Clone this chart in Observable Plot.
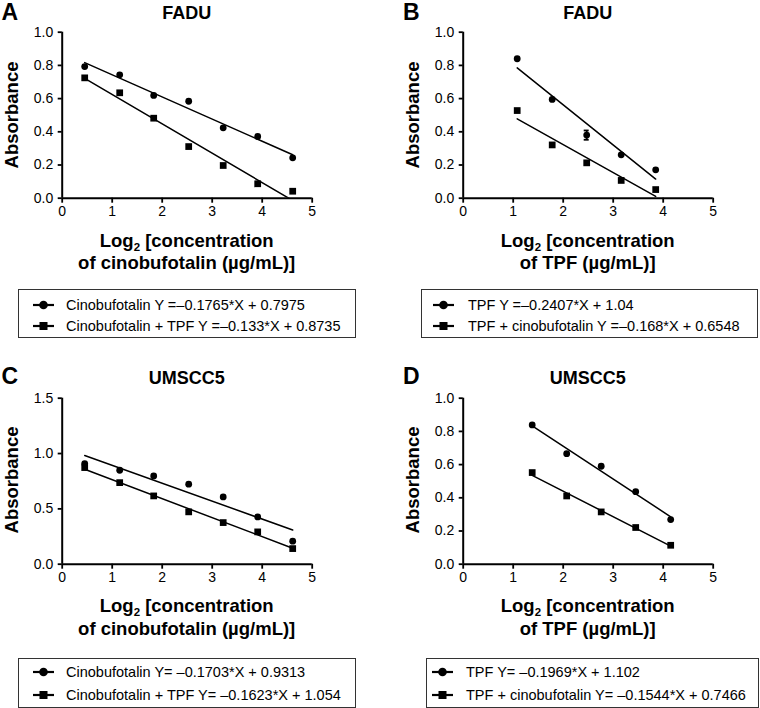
<!DOCTYPE html>
<html>
<head>
<meta charset="utf-8">
<script src="https://cdn.jsdelivr.net/npm/d3@7"></script>
<script src="https://cdn.jsdelivr.net/npm/@observablehq/plot@0.6"></script>
<style>
  html, body { margin: 0; padding: 0; background: #fff; }
  #fig { position: relative; width: 760px; height: 708px; font-family: 'Liberation Sans', Arial, Helvetica, sans-serif; color: #000; overflow: hidden; }
  .abs { position: absolute; white-space: nowrap; line-height: 1; }
  .bold { font-weight: bold; }
  .legbox { position: absolute; border: 1.5px solid #333; box-sizing: border-box; }
</style>
</head>
<body>
<div id="fig"></div>
<script>
// ---------------- data ----------------
const xTicks = [0, 1, 2, 3, 4, 5];
const yTicksAB = [0, 0.2, 0.4, 0.6, 0.8, 1.0];
const yTicksC = [0, 0.5, 1.0, 1.5];
const yTicksD = [0, 0.2, 0.4, 0.6, 0.8, 1.0];

// Panel A: FADU, cinobufotalin
const xA = [0.45, 1.15, 1.83, 2.53, 3.22, 3.91, 4.61];
const aCino = [0.793, 0.743, 0.619, 0.584, 0.424, 0.372, 0.243];
const aCombo = [0.725, 0.635, 0.482, 0.311, 0.197, 0.087, 0.042];

// Panel B: FADU, TPF
const xB = [1.08, 1.78, 2.47, 3.16, 3.85];
const bTPF = [0.84, 0.595, 0.38, 0.261, 0.171];
const bTPFerr = [0, 0, 0.028, 0, 0];
const bCombo = [0.528, 0.321, 0.213, 0.107, 0.052];

// Panel C: UMSCC5, cinobufotalin
const xC = [0.45, 1.15, 1.83, 2.53, 3.22, 3.91, 4.61];
const cCino = [0.909, 0.849, 0.798, 0.723, 0.608, 0.427, 0.208];
const cCombo = [0.873, 0.737, 0.617, 0.473, 0.376, 0.292, 0.141];

// Panel D: UMSCC5, TPF
const xD = [1.38, 2.07, 2.76, 3.45, 4.15];
const dTPF = [0.839, 0.666, 0.59, 0.437, 0.269];
const dCombo = [0.552, 0.411, 0.315, 0.221, 0.114];

const titles = ["FADU", "FADU", "UMSCC5", "UMSCC5"];
const letters = ["A", "B", "C", "D"];
const xLabel2 = ["of cinobufotalin (µg/mL)]", "of TPF (µg/mL)]", "of cinobufotalin (µg/mL)]", "of TPF (µg/mL)]"];
const legendA = ["Cinobufotalin Y =–0.1765*X + 0.7975", "Cinobufotalin + TPF Y =–0.133*X + 0.8735"];
const legendB = ["TPF Y =–0.2407*X + 1.04", "TPF + cinobufotalin Y =–0.168*X + 0.6548"];
const legendC = ["Cinobufotalin Y= –0.1703*X + 0.9313", "Cinobufotalin + TPF Y= –0.1623*X + 1.054"];
const legendD = ["TPF Y= –0.1969*X + 1.102", "TPF + cinobufotalin Y= –0.1544*X + 0.7466"];

// ---------------- layout ----------------
const FONT = "'Liberation Sans', Arial, Helvetica, sans-serif";
const fig = document.getElementById("fig");

const panels = [
  { xs: xA, s1: aCino, s2: aCombo, err: null, yDomain: [0, 1], yTicks: yTicksAB, legend: legendA,
    ox: 0, oy: 0, mL: 61.7, letterX: 1.5, letterTop: 1,
    box: { l: 18, t: 289, w: 338, h: 49 }, rows: [305, 326], keyX: 33, textX: 66 },
  { xs: xB, s1: bTPF, s2: bCombo, err: bTPFerr, yDomain: [0, 1], yTicks: yTicksAB, legend: legendB,
    ox: 380, oy: 0, mL: 82.7, letterX: 403, letterTop: 1,
    box: { l: 421, t: 289, w: 337, h: 49 }, rows: [305, 326], keyX: 433, textX: 468 },
  { xs: xC, s1: cCino, s2: cCombo, err: null, yDomain: [0, 1.5], yTicks: yTicksC, legend: legendC,
    ox: 0, oy: 365.6, mL: 61.7, letterX: 1.5, letterTop: 364.5,
    box: { l: 18, t: 657.7, w: 338, h: 50 }, rows: [671.7, 695], keyX: 33, textX: 66 },
  { xs: xD, s1: dTPF, s2: dCombo, err: null, yDomain: [0, 1], yTicks: yTicksD, legend: legendD,
    ox: 380, oy: 365.6, mL: 82.7, letterX: 403, letterTop: 364.5,
    box: { l: 426, t: 657.7, w: 333, h: 50 }, rows: [671.7, 695], keyX: 432, textX: 466 }
];

function addText(html, x, y, opts = {}) {
  const d = document.createElement("div");
  d.className = "abs" + (opts.bold ? " bold" : "");
  d.style.left = x + "px";
  d.style.top = y + "px";
  d.style.fontSize = (opts.size || 14) + "px";
  const tx = opts.anchor === "start" ? "0" : "-50%";
  const ty = opts.top ? "0" : "-50%";
  d.style.transform = `translate(${tx}, ${ty})` + (opts.rotate ? ` rotate(${opts.rotate}deg)` : "");
  d.innerHTML = html;
  fig.appendChild(d);
  return d;
}

const SVGW = 380, SVGH = 232, PLOTW = 250, TOP = 31.7, AXISY = 197.7;

panels.forEach((p, i) => {
  const s1 = p.xs.map((x, k) => ({ x, y: p.s1[k], e: p.err ? p.err[k] : 0 }));
  const s2 = p.xs.map((x, k) => ({ x, y: p.s2[k] }));
  const errs = s1.filter(d => d.e > 0);

  const chart = Plot.plot({
    width: SVGW,
    height: SVGH,
    marginLeft: p.mL,
    marginRight: SVGW - p.mL - PLOTW,
    marginTop: TOP,
    marginBottom: SVGH - AXISY,
    x: { domain: [0, 5] },
    y: { domain: p.yDomain },
    style: { fontFamily: FONT, fontSize: "14px", color: "#000", background: "transparent", overflow: "visible" },
    marks: [
      Plot.axisX({ ticks: xTicks, tickSize: 5, tickPadding: 3, strokeWidth: 1.8, label: null, tickFormat: d => String(d) }),
      Plot.axisY({ ticks: p.yTicks, tickSize: 4, tickPadding: 5, strokeWidth: 1.8, label: null, tickFormat: d3.format(".1f") }),
      Plot.ruleX([0], { stroke: "#000", strokeWidth: 2 }),
      Plot.ruleY([0], { stroke: "#000", strokeWidth: 2 }),
      Plot.linearRegressionY(s1, { x: "x", y: "y", ci: 0, stroke: "#000", strokeWidth: 1.5, clip: true }),
      Plot.linearRegressionY(s2, { x: "x", y: "y", ci: 0, stroke: "#000", strokeWidth: 1.5, clip: true }),
      Plot.ruleX(errs, { x: "x", y1: d => d.y - d.e, y2: d => d.y + d.e, stroke: "#000", strokeWidth: 1.8 }),
      Plot.ruleY(errs, { y: d => d.y - d.e, x1: d => d.x - 0.05, x2: d => d.x + 0.05, stroke: "#000", strokeWidth: 1.8 }),
      Plot.ruleY(errs, { y: d => d.y + d.e, x1: d => d.x - 0.05, x2: d => d.x + 0.05, stroke: "#000", strokeWidth: 1.8 }),
      Plot.dot(s1, { x: "x", y: "y", r: 3.4, symbol: "circle", fill: "#000", stroke: null }),
      Plot.dot(s2, { x: "x", y: "y", r: 3.8, symbol: "square", fill: "#000", stroke: null })
    ]
  });
  const holder = document.createElement("div");
  holder.style.position = "absolute";
  holder.style.left = p.ox + "px";
  holder.style.top = p.oy + "px";
  holder.appendChild(chart);
  fig.appendChild(holder);

  const cx = p.ox + p.mL + PLOTW / 2;
  const axisY = p.oy + AXISY;
  const midY = p.oy + (TOP + AXISY) / 2;

  // panel letter and title
  addText(letters[i], p.letterX, p.letterTop, { bold: true, size: 23, anchor: "start", top: true });
  addText(titles[i], cx, p.oy + 12.7, { bold: true, size: 18 });
  // y label
  addText("Absorbance", p.ox + p.mL - 50, midY, { bold: true, size: 18.5, rotate: -90 });
  // x label
  addText('Log<span style="font-size:0.62em;position:relative;top:0.35em;">2</span> [concentration', cx, axisY + 42.8, { bold: true, size: 18.5 });
  addText(xLabel2[i], cx, axisY + 65.2, { bold: true, size: 18.5 });

  // legend
  const box = document.createElement("div");
  box.className = "legbox";
  Object.assign(box.style, { left: p.box.l + "px", top: p.box.t + "px", width: p.box.w + "px", height: p.box.h + "px" });
  fig.appendChild(box);
  p.legend.forEach((txt, k) => {
    const key = document.createElementNS("http://www.w3.org/2000/svg", "svg");
    key.setAttribute("width", 22); key.setAttribute("height", 12);
    key.style.position = "absolute";
    key.style.left = p.keyX + "px";
    key.style.top = (p.rows[k] - 6) + "px";
    const sym = k === 0
      ? '<circle cx="10.5" cy="6" r="4.3" fill="#000"/>'
      : '<rect x="6.5" y="2" width="8" height="8" fill="#000"/>';
    key.innerHTML = '<line x1="0" x2="21" y1="6" y2="6" stroke="#000" stroke-width="2.2"/>' + sym;
    fig.appendChild(key);
    addText(txt, p.textX, p.rows[k], { size: 14.5, anchor: "start" });
  });
});
</script>
</body>
</html>
